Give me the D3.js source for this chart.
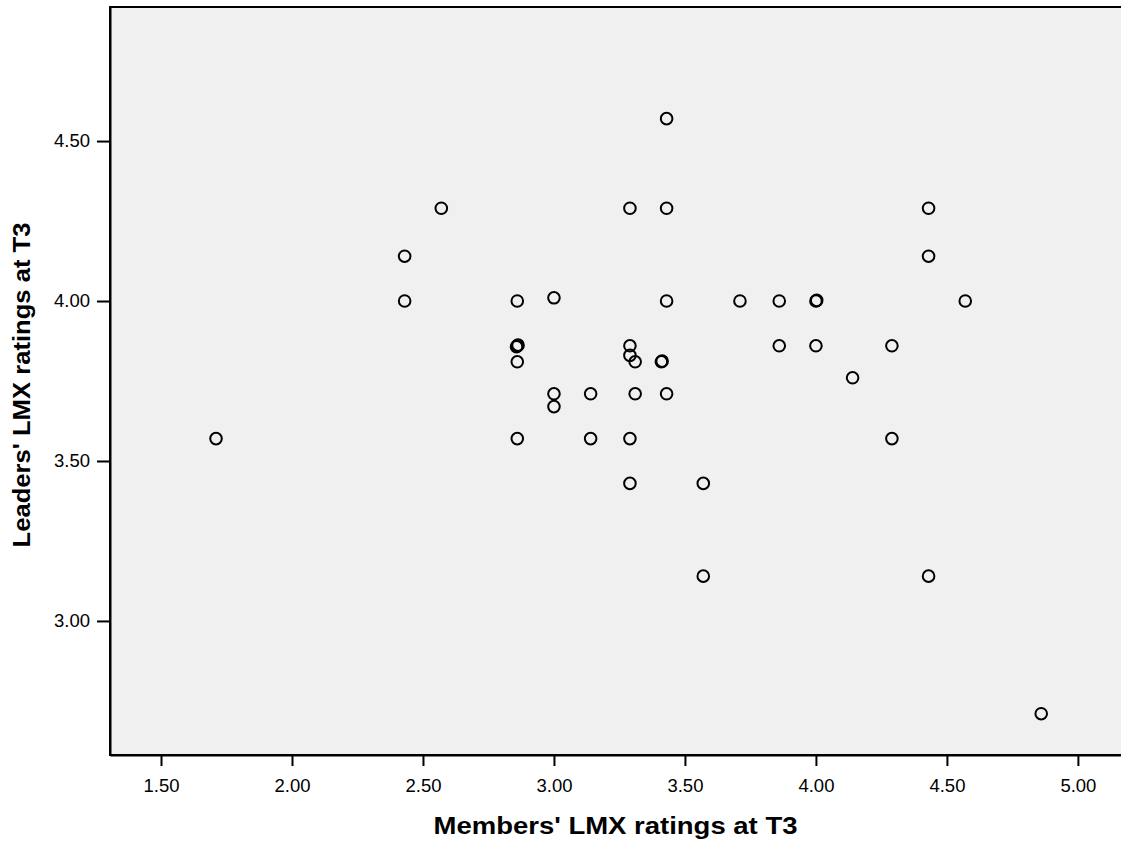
<!DOCTYPE html>
<html>
<head>
<meta charset="utf-8">
<script src="https://cdn.jsdelivr.net/npm/d3@7"></script>
<style>
  html, body { margin: 0; padding: 0; background: #ffffff; }
  svg { display: block; font-family: "Liberation Sans", Arial, sans-serif; }
</style>
</head>
<body>
<svg id="chart" width="1121" height="846"></svg>
<script>
// Members' LMX ratings at T3 (x)
const membersLMX = [1.71, 2.43, 2.43, 2.57, 2.86, 2.86, 2.857, 2.863, 2.86, 2.86,
  3.00, 3.00, 3.00, 3.14, 3.14, 3.29, 3.29, 3.29, 3.29, 3.29,
  3.31, 3.31, 3.41, 3.413, 3.43, 3.43, 3.43, 3.43, 3.57, 3.57,
  3.71, 3.86, 3.86, 4.00, 4.003, 4.00, 4.14, 4.29, 4.29, 4.43,
  4.43, 4.43, 4.57, 4.86];
// Leaders' LMX ratings at T3 (y)
const leadersLMX = [3.57, 4.14, 4.00, 4.29, 4.00, 3.86, 3.857, 3.862, 3.81, 3.57,
  4.01, 3.71, 3.67, 3.71, 3.57, 4.29, 3.86, 3.83, 3.57, 3.43,
  3.81, 3.71, 3.81, 3.812, 4.57, 4.29, 4.00, 3.71, 3.43, 3.14,
  4.00, 4.00, 3.86, 4.00, 4.002, 3.86, 3.76, 3.86, 3.57, 4.29,
  4.14, 3.14, 4.00, 2.71];
const xTicks = [1.5, 2.0, 2.5, 3.0, 3.5, 4.0, 4.5, 5.0];
const yTicks = [3.0, 3.5, 4.0, 4.5];
const xTitle = "Members' LMX ratings at T3";
const yTitle = "Leaders' LMX ratings at T3";

const points = membersLMX.map((v, i) => ({ x: v, y: leadersLMX[i] }));

const plot = { left: 110, top: 7, right: 1124, bottom: 755 };
const svg = d3.select("#chart");

const x = d3.scaleLinear().domain([1.3053, 5.176]).range([plot.left, plot.right]);
const y = d3.scaleLinear().domain([2.581, 4.919]).range([plot.bottom, plot.top]);

// plot background
svg.append("rect")
  .attr("x", plot.left).attr("y", plot.top)
  .attr("width", plot.right - plot.left).attr("height", plot.bottom - plot.top)
  .attr("fill", "#f0f0f0")
  .attr("stroke", "#000").attr("stroke-width", 2);

// x axis
const xAxis = d3.axisBottom(x).tickValues(xTicks).tickFormat(d3.format(".2f"))
  .tickSize(11).tickSizeOuter(0).tickPadding(13);
const gx = svg.append("g").attr("transform", `translate(0,${plot.bottom})`).call(xAxis);
gx.select(".domain").attr("stroke-width", 2);
gx.selectAll(".tick line").attr("stroke-width", 2);
gx.selectAll(".tick text").attr("font-size", 18.5).attr("fill", "#000")
  .attr("font-family", "'Liberation Sans', Arial, sans-serif");

// y axis
const yAxis = d3.axisLeft(y).tickValues(yTicks).tickFormat(d3.format(".2f"))
  .tickSize(13).tickSizeOuter(0).tickPadding(7);
const gy = svg.append("g").attr("transform", `translate(${plot.left},0)`).call(yAxis);
gy.select(".domain").attr("stroke-width", 2);
gy.selectAll(".tick line").attr("stroke-width", 2);
gy.selectAll(".tick text").attr("font-size", 18.5).attr("fill", "#000")
  .attr("font-family", "'Liberation Sans', Arial, sans-serif");

// points
svg.append("g").selectAll("circle").data(points).join("circle")
  .attr("cx", d => x(d.x)).attr("cy", d => y(d.y))
  .attr("r", 5.8)
  .attr("fill", "none").attr("stroke", "#000").attr("stroke-width", 2);

// titles
svg.append("text")
  .attr("x", (plot.left + 1121) / 2).attr("y", 834)
  .attr("text-anchor", "middle").attr("font-weight", "bold").attr("font-size", 24)
  .attr("textLength", 364).attr("lengthAdjust", "spacingAndGlyphs")
  .text(xTitle);
svg.append("text")
  .attr("transform", `translate(30,${(plot.top + plot.bottom) / 2 + 4}) rotate(-90)`)
  .attr("text-anchor", "middle").attr("font-weight", "bold").attr("font-size", 24)
  .attr("textLength", 325).attr("lengthAdjust", "spacingAndGlyphs")
  .text(yTitle);
</script>
</body>
</html>
